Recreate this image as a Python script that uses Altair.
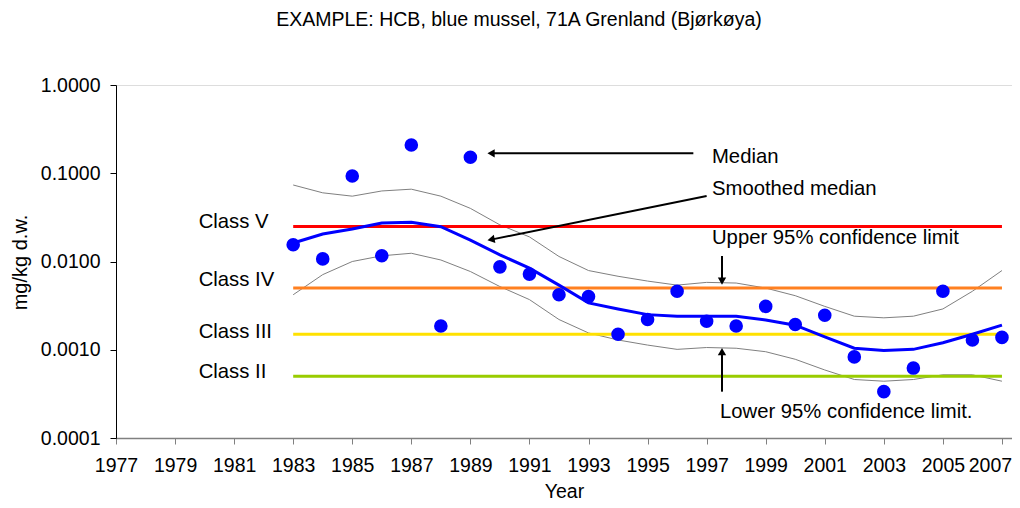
import altair as alt
import pandas as pd

FONT = "Liberation Sans"

years = list(range(1983, 2008))
median = [0.0155, 0.0107, 0.093, 0.0116, 0.209, 0.00186, 0.152, 0.0087, 0.0072,
          0.0042, 0.0040, 0.0015, 0.0022, 0.0046, 0.0021, 0.00186, 0.0031, 0.00193,
          0.00246, 0.00083, 0.000335, 0.00062, 0.0046, 0.00129, 0.00138]
smoothed = [0.0162, 0.0205, 0.0234, 0.0273, 0.0278, 0.0248, 0.0175, 0.0119, 0.0084,
            0.0054, 0.0034, 0.0029, 0.0025, 0.0024, 0.0024, 0.0024, 0.00217, 0.0019,
            0.0014, 0.00104, 0.00098, 0.00101, 0.0012, 0.0015, 0.0019]
upper = [0.0736, 0.060, 0.055, 0.063, 0.066, 0.055, 0.040, 0.026, 0.019, 0.0114,
         0.0079, 0.0068, 0.0060, 0.0054, 0.0058, 0.0057, 0.0050, 0.0041, 0.0031,
         0.0024, 0.0023, 0.0024, 0.0029, 0.0046, 0.0079]
lower = [0.0042, 0.0071, 0.0100, 0.0116, 0.0124, 0.0104, 0.0077, 0.0052, 0.0037,
         0.0022, 0.00155, 0.00129, 0.00113, 0.00101, 0.00106, 0.00104, 0.00095,
         0.00078, 0.00059, 0.00046, 0.00044, 0.00046, 0.00052, 0.00052, 0.00044]

class_names = ["Class V", "Class IV", "Class III", "Class II"]
class_limits = [0.025, 0.005, 0.0015, 0.0005]
class_colors = ["#FF0000", "#FF8020", "#FFE100", "#99CC00"]
class_label_y = [0.0283, 0.0061, 0.0016, 0.00056]
class_label_x = [1979.8, 1979.8, 1979.8, 1979.8]
class_start = [1983, 1983, 1983, 1983]
class_end = [2007, 2007, 2007, 2007]

ann_text = ["Median", "Smoothed median", "Upper 95% confidence limit",
            "Lower 95% confidence limit."]
ann_x = [1997.18, 1997.18, 1997.18, 1997.45]
ann_y = [0.154, 0.0658, 0.0183, 0.000199]

arrow_x0 = [1996.55, 1997.0, 1997.52, 1997.52]
arrow_y0 = [0.168, 0.0552, 0.01154, 0.000335]
arrow_x1 = [1989.7, 1989.7, 1997.52, 1997.52]
arrow_y1 = [0.168, 0.0177, 0.0060, 0.00095]
head_angle = [180, 169, 90, 270]

x_ticks = list(range(1977, 2008, 2))
y_ticks = [0.0001, 0.001, 0.01, 0.1, 1.0]

xs = alt.Scale(domain=[1977, 2007.34], nice=False, zero=False)
ys = alt.Scale(type="log", domain=[0.0001, 1], nice=False)

xaxis = alt.Axis(values=x_ticks, format="d", title="Year", grid=False,
                 labelFontSize=19.5, labelFont=FONT, labelColor="#000000",
                 tickColor="#808080", tickSize=6, domainColor="#808080",
                 domainWidth=1.5, labelPadding=12, labelFlush=False,
                 labelOffset={"condition": {"test": "datum.value == 2007", "value": -12},
                              "value": 0},
                 titleFont=FONT, titleFontSize=19.5, titleFontWeight="normal",
                 titleColor="#000000", titleBaseline="middle", titleY=53)
yaxis = alt.Axis(values=y_ticks, format=".4f", title="mg/kg d.w.", grid=False,
                 labelFontSize=19.5, labelFont=FONT, labelColor="#000000",
                 tickColor="#000000", tickSize=6, domainColor="#000000",
                 labelPadding=10, labelFlush=False,
                 titleFont=FONT, titleFontSize=20, titleFontWeight="normal",
                 titleColor="#000000", titleAngle=270, titleAlign="center",
                 titleBaseline="middle", titleX=-96, titleY=177)

series = pd.DataFrame({"year": years, "median": median, "smoothed": smoothed,
                       "upper": upper, "lower": lower})
classes = pd.DataFrame({"name": class_names, "limit": class_limits,
                        "color": class_colors, "ly": class_label_y,
                        "lx": class_label_x, "x0": class_start, "x1": class_end})
ann = pd.DataFrame({"text": ann_text, "x": ann_x, "y": ann_y})
arrows = pd.DataFrame({"x0": arrow_x0, "y0": arrow_y0, "x1": arrow_x1,
                       "y1": arrow_y1, "angle": head_angle})

base = alt.Chart(series)

upper_line = base.mark_line(color="#808080", strokeWidth=1).encode(
    x=alt.X("year:Q", scale=xs, axis=xaxis),
    y=alt.Y("upper:Q", scale=ys, axis=yaxis))
lower_line = base.mark_line(color="#808080", strokeWidth=1).encode(
    x=alt.X("year:Q", scale=xs, axis=xaxis),
    y=alt.Y("lower:Q", scale=ys, axis=yaxis))

class_rules = alt.Chart(classes).mark_rule(strokeWidth=3).encode(
    x=alt.X("x0:Q", scale=xs, axis=xaxis),
    x2="x1:Q",
    y=alt.Y("limit:Q", scale=ys, axis=yaxis),
    color=alt.Color("color:N", scale=None))
class_text = alt.Chart(classes).mark_text(
    align="left", baseline="middle", font=FONT, fontSize=20.3, color="#000000"
).encode(
    x=alt.X("lx:Q", scale=xs, axis=xaxis),
    y=alt.Y("ly:Q", scale=ys, axis=yaxis),
    text="name:N")

smooth_line = base.mark_line(color="#0000FF", strokeWidth=3).encode(
    x=alt.X("year:Q", scale=xs, axis=xaxis),
    y=alt.Y("smoothed:Q", scale=ys, axis=yaxis))
points = base.mark_circle(size=185, color="#0000FF", opacity=1).encode(
    x=alt.X("year:Q", scale=xs, axis=xaxis),
    y=alt.Y("median:Q", scale=ys, axis=yaxis))

arrow_lines = alt.Chart(arrows).mark_rule(color="#000000", strokeWidth=2).encode(
    x=alt.X("x0:Q", scale=xs, axis=xaxis), x2="x1:Q",
    y=alt.Y("y0:Q", scale=ys, axis=yaxis), y2="y1:Q")
arrow_heads = alt.Chart(arrows).mark_point(
    shape="triangle-right", filled=True, color="#000000", size=70, opacity=1
).encode(
    x=alt.X("x1:Q", scale=xs, axis=xaxis),
    y=alt.Y("y1:Q", scale=ys, axis=yaxis),
    angle=alt.Angle("angle:Q", scale=None))
ann_text_layer = alt.Chart(ann).mark_text(
    align="left", baseline="middle", font=FONT, fontSize=20.3, color="#000000"
).encode(
    x=alt.X("x:Q", scale=xs, axis=xaxis),
    y=alt.Y("y:Q", scale=ys, axis=yaxis),
    text="text:N")

chart = alt.layer(
    upper_line, lower_line, class_rules, smooth_line, points,
    class_text, arrow_lines, arrow_heads, ann_text_layer
).properties(
    width=896, height=353,
    title=alt.TitleParams("EXAMPLE: HCB, blue mussel, 71A Grenland (Bjørkøya)",
                          font=FONT, fontSize=19.5, fontWeight="normal",
                          color="#000000", anchor="middle", frame="group",
                          dx=-45, offset=30, baseline="alphabetic"),
    autosize=alt.AutoSizeParams(type="none"),
    padding={"left": 108, "top": 77, "right": 0, "bottom": 62},
).configure_view(stroke=None).configure(background="#FFFFFF")

chart.save("out.html", embed_options={"renderer": "svg", "actions": False})
